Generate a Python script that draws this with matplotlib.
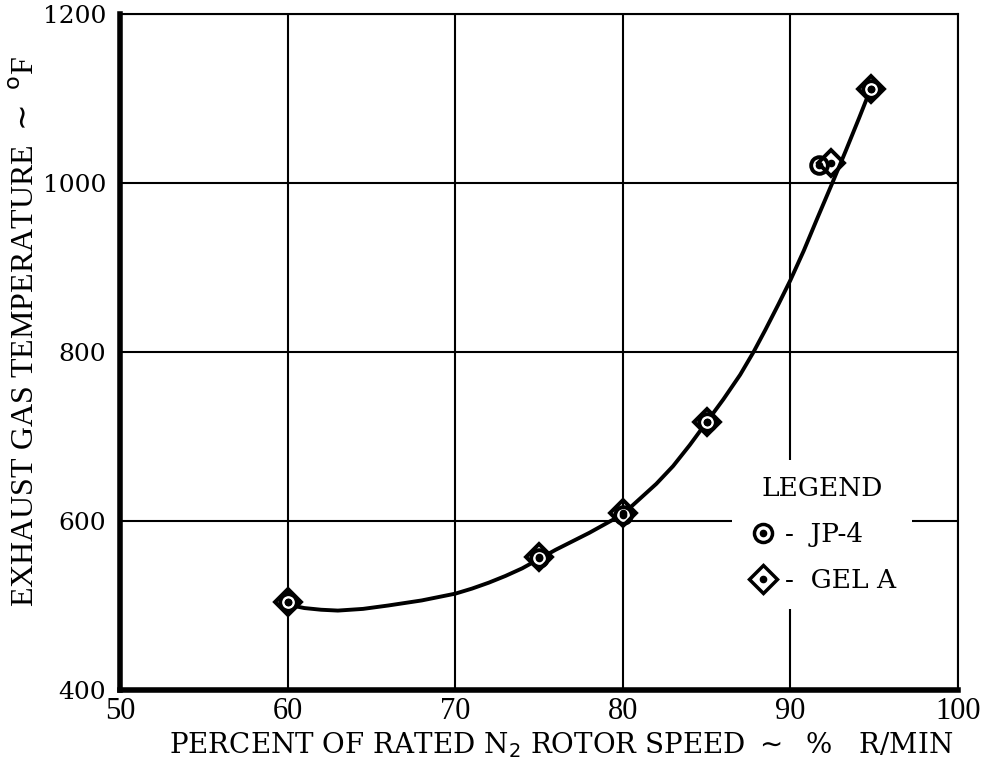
import matplotlib
matplotlib.use("Agg")
import matplotlib.pyplot as plt
from matplotlib.lines import Line2D
from matplotlib.legend_handler import HandlerTuple

jp4_speed = [60, 75, 80, 85, 91.7, 94.8]
jp4_temp = [504, 556, 607, 717, 1021, 1111]
gel_speed = [60, 75, 80, 85, 92.4, 94.8]
gel_temp = [504, 558, 610, 717, 1024, 1111]

# faired curve
curve_speed = [60, 60.5, 61, 62, 63, 64.5, 66, 68, 70, 71, 72, 73, 74, 75, 76, 77, 78, 79, 80, 81,
               82, 83, 84, 85, 86, 87, 87.8, 88.5, 89.3, 90, 90.8, 91.6, 92.5, 93.3, 94.1, 94.8]
curve_temp = [504, 499, 497, 495, 494, 496, 500, 506, 514, 520, 527, 535, 544, 555, 566, 576, 586, 597, 608, 626,
              644, 665, 690, 717, 744, 773, 800, 826, 857, 885, 920, 958, 1000, 1038, 1077, 1112]

x_ticks = [50, 60, 70, 80, 90, 100]
y_ticks = [400, 600, 800, 1000, 1200]

plt.rcParams["font.family"] = ["Liberation Serif", "DejaVu Serif"]

fig = plt.figure(figsize=(9.85, 7.66), dpi=100)
ax = fig.add_axes([0.1218, 0.0992, 0.8508, 0.8825])

ax.plot(curve_speed, curve_temp, color="black", lw=2.8, zorder=3)

ax.plot(jp4_speed, jp4_temp, ls="none", marker="o", ms=12, mfc="white", mec="black", mew=2.8, zorder=4)
ax.plot(gel_speed, gel_temp, ls="none", marker="D", ms=13, mfc="none", mec="black", mew=2.8, zorder=4)
ax.plot(jp4_speed, jp4_temp, ls="none", marker="o", ms=4.5, color="black", zorder=5)
ax.plot(gel_speed, gel_temp, ls="none", marker="o", ms=4.5, color="black", zorder=5)

ax.set_xlim(50, 100)
ax.set_ylim(400, 1200)
ax.set_xticks(x_ticks)
ax.set_yticks(y_ticks)
ax.tick_params(length=0)
ax.tick_params(axis="x", pad=5)
ax.tick_params(axis="y", pad=10)
for lbl in ax.get_xticklabels():
    lbl.set_fontsize(22)
for lbl in ax.get_yticklabels():
    lbl.set_fontfamily("DejaVu Serif")
    lbl.set_fontsize(18)
ax.grid(True, color="black", lw=1.5)
ax.set_axisbelow(True)
for side in ["top", "right"]:
    ax.spines[side].set_linewidth(1.5)
for side in ["left", "bottom"]:
    ax.spines[side].set_linewidth(4)

ax.set_xlabel("PERCENT OF RATED N$_2$ ROTOR SPEED $\\sim$  %   R/MIN",
              fontsize=20, family="DejaVu Serif")
ax.xaxis.set_label_coords(0.526, -0.06)
ax.set_ylabel("EXHAUST GAS TEMPERATURE $\\sim$ $^{\\rm o}$F", fontsize=23)
ax.yaxis.set_label_coords(-0.094, 0.53)

h_jp = (Line2D([], [], ls="none", marker="o", ms=13, mfc="white", mec="black", mew=2.5),
        Line2D([], [], ls="none", marker="o", ms=4.5, color="black"))
h_gel = (Line2D([], [], ls="none", marker="D", ms=14, mfc="white", mec="black", mew=2.5),
         Line2D([], [], ls="none", marker="o", ms=4.5, color="black"))
leg = ax.legend([h_jp, h_gel], ["-  JP-4", "-  GEL A"], title="LEGEND",
                handler_map={tuple: HandlerTuple(ndivide=1, pad=0)},
                loc="center", bbox_to_anchor=(0.838, 0.23),
                prop={"family": "DejaVu Serif", "size": 19},
                frameon=True, facecolor="white", edgecolor="none", framealpha=1,
                handlelength=1.1, handletextpad=0.3, labelspacing=0.8, borderpad=0.6)
leg.get_title().set_fontfamily("DejaVu Serif")
leg.get_title().set_fontsize(19)
leg.get_frame().set_linewidth(0)
leg.set_zorder(6)

fig.savefig("out.png", dpi=100)
